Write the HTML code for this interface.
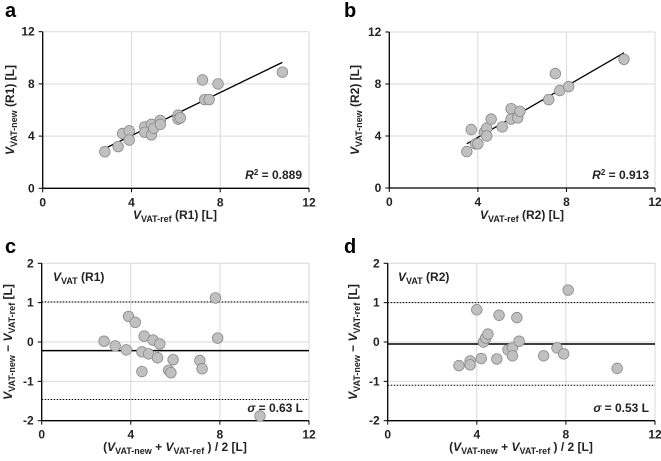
<!DOCTYPE html>
<html><head><meta charset="utf-8"><style>
body{margin:0;background:#fff}
svg{display:block;font-family:"Liberation Sans",Arial,sans-serif}
</style></head><body>
<svg id="fig" width="661" height="461" viewBox="0 0 661 461" xmlns="http://www.w3.org/2000/svg"></svg>
<script>
// Panel a data
const aX=[2.8,3.4,3.6,3.9,3.9,4.6,4.6,4.9,4.9,5.0,5.3,5.3,6.1,6.1,6.2,7.2,7.3,7.5,7.9,10.8];
const aY=[2.8,3.2,4.2,4.4,3.7,4.7,4.3,4.1,4.9,4.6,5.2,4.9,5.6,5.3,5.4,8.3,6.8,6.8,8.0,8.9];
const aFit=[[2.8,3.05],[10.8,9.65]];
// Panel b data
const bX=[3.5,3.7,3.9,4.0,4.3,4.4,4.4,4.6,5.1,5.5,5.5,5.8,5.9,7.2,7.5,7.7,8.1,10.6];
const bY=[2.8,4.5,3.4,3.4,4.3,4.6,4.0,5.3,4.7,6.1,5.3,5.4,5.9,6.8,8.8,7.5,7.8,9.9];
const bFit=[[3.5,3.4],[10.6,10.4]];
// Panel c data
const cX=[2.8,3.3,3.8,3.9,4.2,4.5,4.5,4.6,4.8,5.0,5.2,5.3,5.7,5.8,5.9,7.1,7.2,7.8,7.9,9.8];
const cY=[0.02,-0.1,-0.2,0.65,0.5,-0.25,-0.75,0.15,-0.3,0.05,-0.4,-0.05,-0.72,-0.78,-0.45,-0.47,-0.68,1.12,0.1,-1.88];
const cLines=[-0.22,1.02,-1.46];
// Panel d data
const dX=[3.2,3.7,3.7,4.0,4.2,4.3,4.4,4.5,4.9,5.0,5.4,5.6,5.6,5.8,5.9,7.0,7.6,7.9,8.1,10.3];
const dY=[-0.6,-0.48,-0.58,0.82,-0.42,0.0,0.1,0.2,-0.43,0.68,-0.2,-0.15,-0.35,0.62,0.02,-0.35,-0.15,-0.3,1.32,-0.67];
const dLines=[-0.05,1.0,-1.1];
const xTicks=[0,4,8,12];
const yTicksTop=[0,4,8,12];
const yTicksBot=[-2,-1,0,1,2];

const NS="http://www.w3.org/2000/svg";
const svg=document.getElementById('fig');
function mk(tag,attrs,parent,name){const e=document.createElementNS(NS,tag);for(const k in attrs)e.setAttribute(k,attrs[k]);


(parent||svg).appendChild(e);return e;}

function panel(cfg){
 const g=mk('g',{},svg,'panel-'+cfg.letter);
 const sx=v=>cfg.x0+(v-0)/12*(cfg.x1-cfg.x0);
 const sy=v=>cfg.yb+(v-cfg.ymin)/(cfg.ymax-cfg.ymin)*(cfg.yt-cfg.yb);
 // grid
 xTicks.forEach(t=>{if(t>0)mk('line',{x1:sx(t),x2:sx(t),y1:cfg.yt,y2:cfg.yb,stroke:'#d9d9d9','stroke-width':1},g,'x-gridline');});
 cfg.yticks.forEach(t=>{if(t>cfg.ymin)mk('line',{x1:cfg.x0,x2:cfg.x1,y1:sy(t),y2:sy(t),stroke:'#d9d9d9','stroke-width':1},g,'y-gridline');});
 // axes
 mk('line',{x1:cfg.x0,x2:cfg.x1,y1:cfg.yb,y2:cfg.yb,stroke:'#000','stroke-width':1.3},g,'x-axis');
 mk('line',{x1:cfg.x0,x2:cfg.x0,y1:cfg.yt,y2:cfg.yb,stroke:'#000','stroke-width':1.3},g,'y-axis');
 xTicks.forEach(t=>{mk('line',{x1:sx(t),x2:sx(t),y1:cfg.yb,y2:cfg.yb+4,stroke:'#000'},g,'x-tick');
  const tx=mk('text',{x:sx(t),y:cfg.yb+18,'text-anchor':'middle','font-size':12,'font-weight':'bold',fill:'#222'},g,'x-tick-label');tx.textContent=t;});
 cfg.yticks.forEach(t=>{mk('line',{x1:cfg.x0-4,x2:cfg.x0,y1:sy(t),y2:sy(t),stroke:'#000'},g,'y-tick');
  const tx=mk('text',{x:cfg.x0-8,y:sy(t)+4,'text-anchor':'end','font-size':12,'font-weight':'bold',fill:'#222'},g,'y-tick-label');tx.textContent=t;});
 // lines
 if(cfg.fit){mk('line',{x1:sx(cfg.fit[0][0]),y1:sy(cfg.fit[0][1]),x2:sx(cfg.fit[1][0]),y2:sy(cfg.fit[1][1]),stroke:'#000','stroke-width':1.3},g,'regression-line');}
 if(cfg.ba){
  mk('line',{x1:cfg.x0,x2:cfg.x1,y1:sy(cfg.ba[0]),y2:sy(cfg.ba[0]),stroke:'#000','stroke-width':1.5},g,'mean-difference-line');
  mk('line',{x1:cfg.x0,x2:cfg.x1,y1:sy(cfg.ba[1]),y2:sy(cfg.ba[1]),stroke:'#000','stroke-width':1,'stroke-dasharray':'1.5,1.5'},g,'upper-limit-line');
  mk('line',{x1:cfg.x0,x2:cfg.x1,y1:sy(cfg.ba[2]),y2:sy(cfg.ba[2]),stroke:'#000','stroke-width':1,'stroke-dasharray':'1.5,1.5'},g,'lower-limit-line');
 }
 cfg.xs.forEach((v,i)=>{mk('circle',{cx:sx(v),cy:sy(cfg.ys[i]),r:5.3,fill:'#c0c0c0',stroke:'#8a8a8a','stroke-width':0.8},g,'data-point');});
 const L=mk('text',{x:cfg.lx,y:cfg.ly,'font-size':20,'font-weight':'bold',fill:'#000'},g,'panel-label');L.textContent=cfg.letter;
 const X=mk('g',{},g,'x-axis-title');X.innerHTML=cfg.xt;
 const Y=mk('g',{},g,'y-axis-title');Y.innerHTML=cfg.yt2;
 const A=mk('g',{},g,'annotation');A.innerHTML=cfg.ann;
}
const sub=(t)=>`<tspan font-size="9" dy="3">${t}</tspan><tspan dy="-3"> </tspan>`;
function xt1(cx,y,r){return `<text x="${cx}" y="${y}" text-anchor="middle" font-size="12" font-weight="bold" fill="#222"><tspan font-style="italic">V</tspan>${sub('VAT-ref')}(${r}) [L]</text>`;}
function yt1(x,cy,r){return `<text transform="translate(${x},${cy}) rotate(-90)" text-anchor="middle" font-size="12" font-weight="bold" fill="#222"><tspan font-style="italic">V</tspan>${sub('VAT-new')}(${r}) [L]</text>`;}
const xt2=(cx,y)=>`<text x="${cx}" y="${y}" text-anchor="middle" font-size="12" font-weight="bold" fill="#222">(<tspan font-style="italic">V</tspan>${sub('VAT-new')}+ <tspan font-style="italic">V</tspan>${sub('VAT-ref')}) / 2 [L]</text>`;
const yt2=(x,cy)=>`<text transform="translate(${x},${cy}) rotate(-90)" text-anchor="middle" font-size="12" font-weight="bold" fill="#222"><tspan font-style="italic">V</tspan>${sub('VAT-new')}− <tspan font-style="italic">V</tspan>${sub('VAT-ref')}[L]</text>`;

panel({letter:'a',x0:42.7,x1:309,yt:31.7,yb:188.3,ymin:0,ymax:12,yticks:yTicksTop,xs:aX,ys:aY,fit:aFit,lx:5,ly:17,
 xt:xt1(175,219,'R1'),yt2:yt1(14,110,'R1'),
 ann:`<text x="302" y="179" text-anchor="end" font-size="12" font-weight="bold" fill="#222"><tspan font-style="italic">R</tspan><tspan font-size="8" dy="-4">2</tspan><tspan dy="4"> = 0.889</tspan></text>`});
panel({letter:'b',x0:389.3,x1:655,yt:32,yb:188,ymin:0,ymax:12,yticks:yTicksTop,xs:bX,ys:bY,fit:bFit,lx:344,ly:17,
 xt:xt1(522,219,'R2'),yt2:yt1(359,110,'R2'),
 ann:`<text x="649" y="179" text-anchor="end" font-size="12" font-weight="bold" fill="#222"><tspan font-style="italic">R</tspan><tspan font-size="8" dy="-4">2</tspan><tspan dy="4"> = 0.913</tspan></text>`});
panel({letter:'c',x0:41.7,x1:309,yt:263.3,yb:420.7,ymin:-2,ymax:2,yticks:yTicksBot,xs:cX,ys:cY,ba:cLines,lx:5,ly:253,
 xt:xt2(175,451),yt2:yt2(12,342),
 ann:`<text x="53" y="281" font-size="12" font-weight="bold" fill="#222"><tspan font-style="italic">V</tspan>${sub('VAT')}(R1)</text><text x="303" y="412" text-anchor="end" font-size="12" font-weight="bold" fill="#222"><tspan font-style="italic">σ</tspan> = 0.63 L</text>`});
panel({letter:'d',x0:387.7,x1:655,yt:263.3,yb:420.7,ymin:-2,ymax:2,yticks:yTicksBot,xs:dX,ys:dY,ba:dLines,lx:344,ly:253,
 xt:xt2(521,451),yt2:yt2(357,342),
 ann:`<text x="398" y="281" font-size="12" font-weight="bold" fill="#222"><tspan font-style="italic">V</tspan>${sub('VAT')}(R2)</text><text x="649" y="412" text-anchor="end" font-size="12" font-weight="bold" fill="#222"><tspan font-style="italic">σ</tspan> = 0.53 L</text>`});
</script>
</body></html>
